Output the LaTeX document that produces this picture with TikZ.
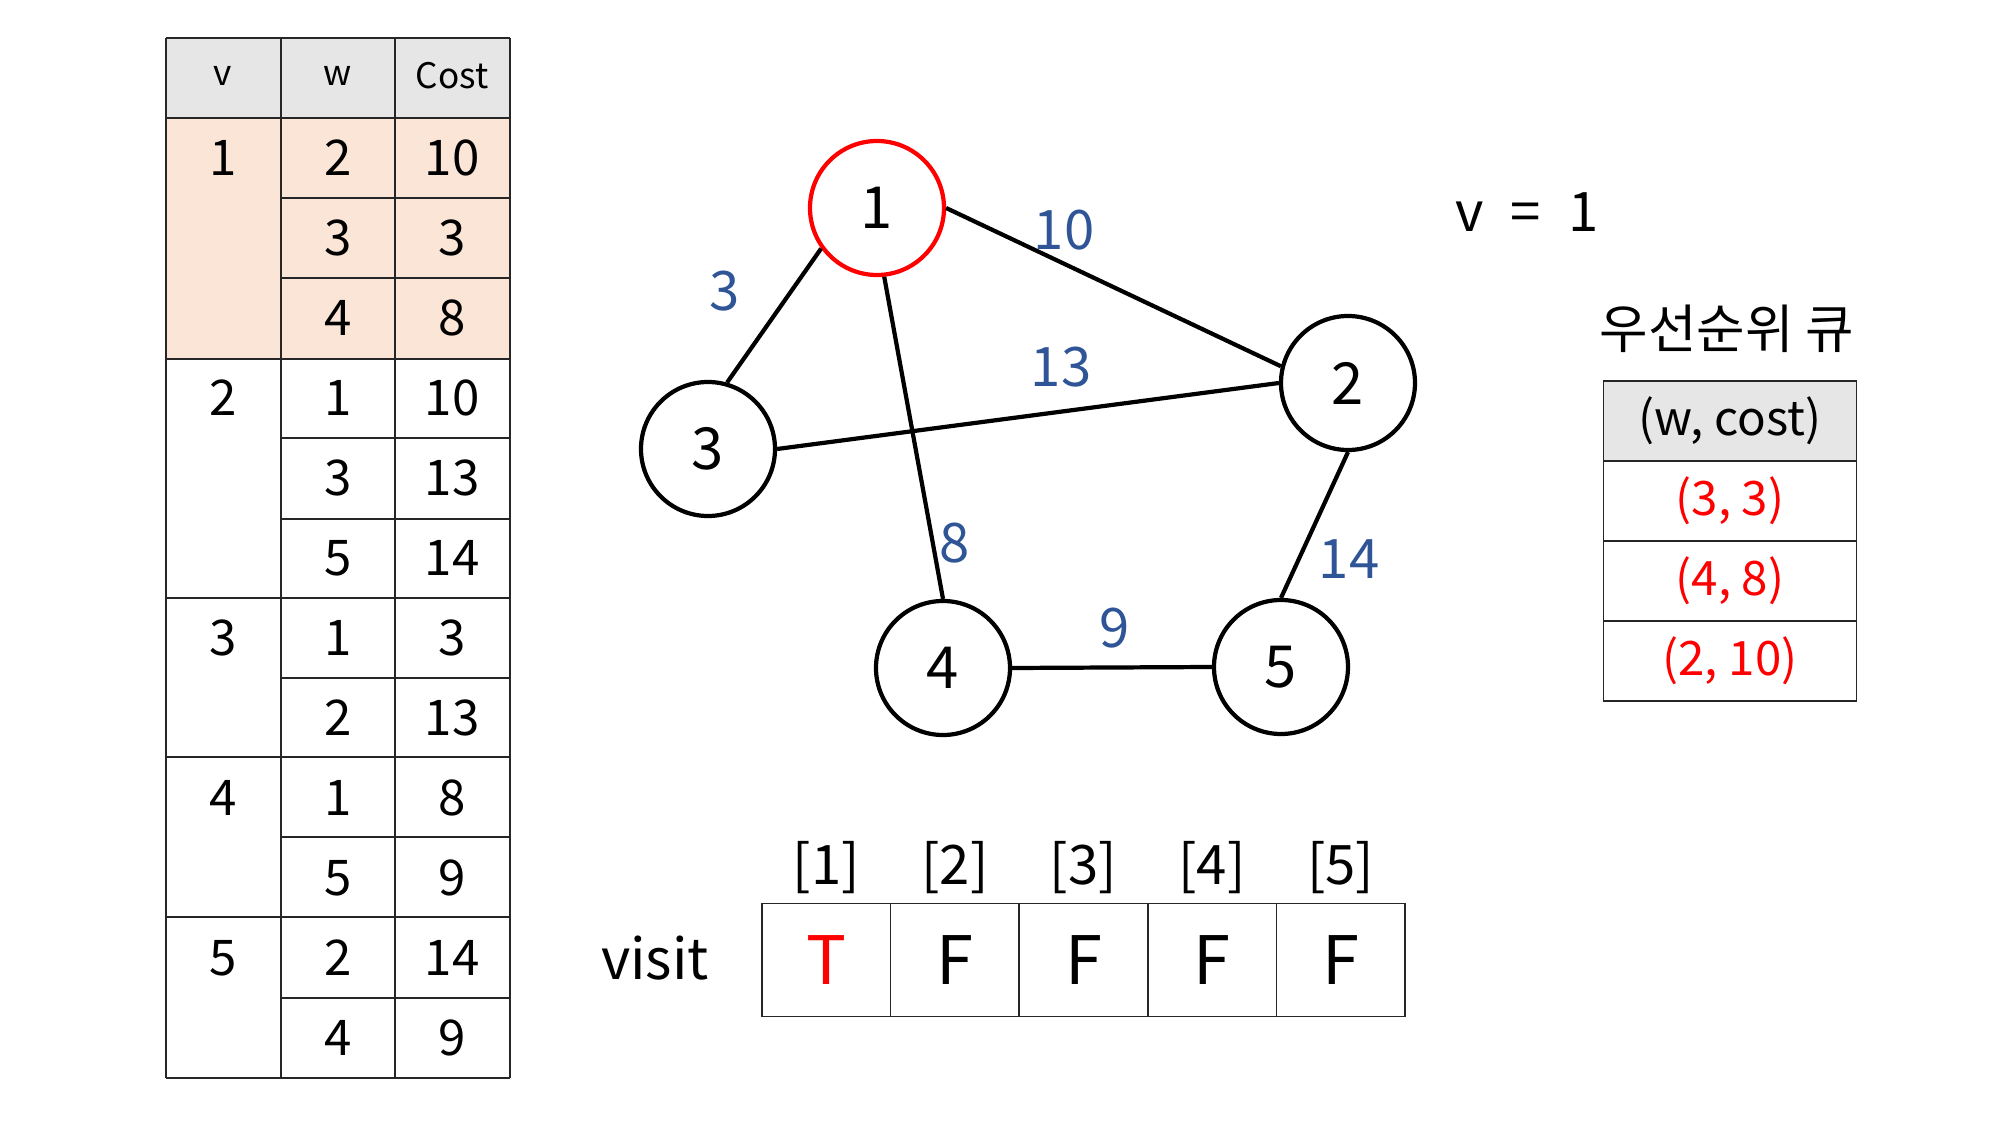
\documentclass[tikz,border=0pt]{standalone}
\usepackage{fontspec}
\setmainfont{Noto Sans CJK KR}
\usetikzlibrary{positioning}
\definecolor{wblue}{HTML}{2F5597}
\definecolor{hgray}{HTML}{E7E6E6}
\definecolor{peach}{HTML}{FBE5D6}
\definecolor{qred}{HTML}{FF0000}

\begin{document}
\begin{tikzpicture}[x=0.1mm, y=-0.1mm,
	vertex/.style={circle, draw=black, line width=1.2pt, minimum size=13.4mm, inner sep=0pt, fill=white, font=\fontsize{16.5}{18}\selectfont},
	edge/.style={line width=1.2pt},
	weight/.style={text=wblue, font=\fontsize{15.5}{18}\selectfont},
	cell/.style={font=\fontsize{14}{16}\selectfont},
	grid/.style={draw=black!85, line width=0.5pt},
	qcell/.style={draw=black!85, line width=0.5pt, minimum width=25.3mm, minimum height=8mm, inner sep=0pt, font=\fontsize{13.5}{16}\selectfont},
	vcell/.style={draw=black!85, line width=0.5pt, minimum width=12.86mm, minimum height=11.3mm, inner sep=0pt, font=\fontsize{19}{21}\selectfont}]
	\useasboundingbox (0,0) rectangle (2000,1125);
	% adjacency table
	\fill[hgray] (166,38) rectangle (510,118);
	\fill[peach] (166,118) rectangle (510,359);
	\foreach \x in {166, 281, 395, 510}
	{\draw[grid] (\x,38) -- (\x,1078);}
	\foreach \y in {38, 118, 359, 598, 757, 917, 1078}
	{\draw[grid] (166,\y) -- (510,\y);}
	\foreach \y in {198, 278, 438, 519, 678, 837, 998}
	{\draw[grid] (281,\y) -- (510,\y);}
	\node[font=\fontsize{10}{12}\selectfont] (hv) at (223,76) {v};
	\node[font=\fontsize{10}{12}\selectfont] (hw) at (338,76) {w};
	\node[font=\fontsize{10}{12}\selectfont] (hc) at (452,76) {Cost};
	\foreach \r /\v in {1/1, 4/2, 7/3, 9/4, 11/5}{
		\node[cell] (v\v) at (223,{78+80*\r}) {\v};
	}
	\foreach \r /\w /\c in {
		1/2/10, 2/3/3, 3/4/8,
		4/1/10, 5/3/13, 6/5/14,
		7/1/3, 8/2/13,
		9/1/8, 10/5/9,
		11/2/14, 12/4/9
	}{
		\node[cell] (w\r) at (338,{78+80*\r}) {\w};
		\node[cell] (c\r) at (452,{78+80*\r}) {\c};
	}
	% graph
	\node[vertex, draw=qred] (n1) at (877,208) {1};
	\node[vertex] (n2) at (1348,383) {2};
	\node[vertex] (n3) at (708,449) {3};
	\node[vertex] (n4) at (943,668) {4};
	\node[vertex] (n5) at (1281,667) {5};
	\foreach \a /\b in {n1.east/n2.166, n1.216/n3.74, n1.276/n4.north, n3.east/n2.west, n2.south/n5.north, n4.east/n5.west}
	{\draw[edge] (\a) -- (\b);}
	\node[weight] (l12) at (1064,230) {10};
	\node[weight] (l13) at (725,291) {3};
	\node[weight] (l32) at (1061,367) {13};
	\node[weight] (l14) at (955,543) {8};
	\node[weight] (l25) at (1349,559) {14};
	\node[weight] (l45) at (1115,628) {9};
	% current vertex and priority queue
	\node[font=\fontsize{15.5}{18}\selectfont] (cur) at (1527,212) {v\,\,\,=\,\,\,1};
	\node[font=\fontsize{15}{18}\selectfont] (qt) at (1727,329) {우선순위 큐};
	\node[qcell, fill=hgray] (q0) at (1730,421) {(w, cost)};
	\foreach \j /\t in {1/{(3, 3)}, 2/{(4, 8)}, 3/{(2, 10)}}{
		\node[qcell, text=qred] (q\j) at (1730,{421+80*\j}) {\t};
	}
	% visit array
	\node[font=\fontsize{16}{18}\selectfont] (vis) at (655,958) {visit};
	\foreach \i /\s /\col in {1/T/qred, 2/F/black, 3/F/black, 4/F/black, 5/F/black}{
		\node[vcell, text=\col] (s\i) at ({762+128.6*(\i-0.5)},960) {\s};
		\node[font=\fontsize{15.5}{18}\selectfont] (i\i) at ({762+128.6*(\i-0.5)},868) {[\i]};
	}
\end{tikzpicture}
\end{document}
